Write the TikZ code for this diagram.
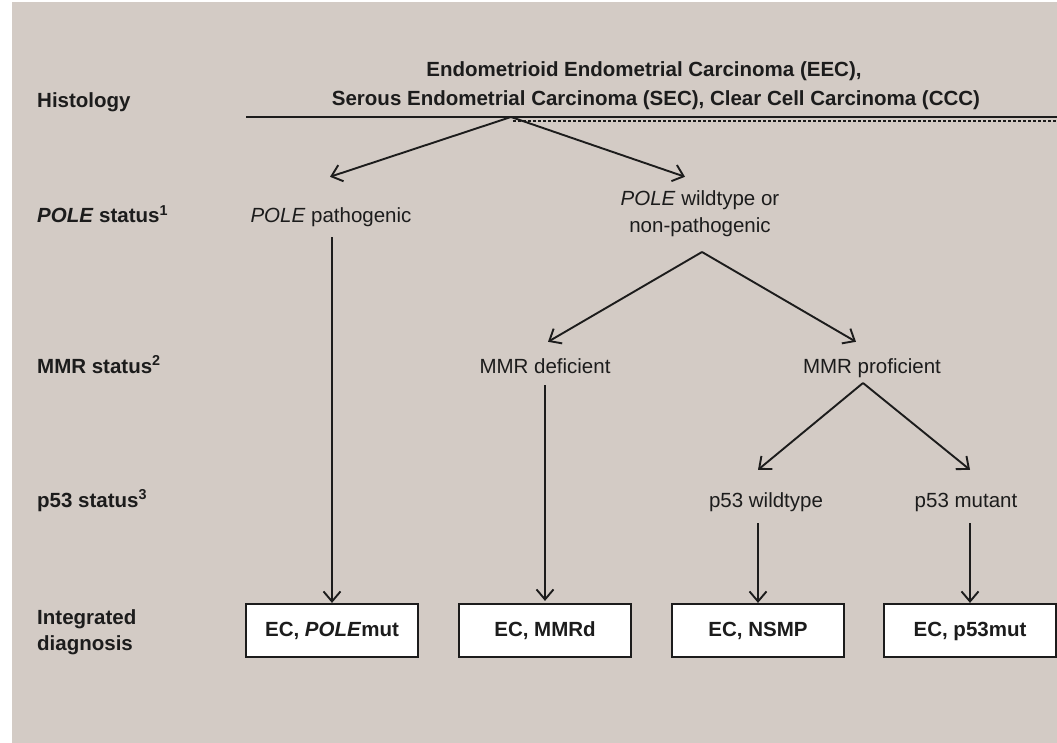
\documentclass[tikz,border=0pt]{standalone}
\usepackage{fontspec}
\setmainfont{Liberation Sans}
\usetikzlibrary{arrows.meta}
\definecolor{bgc}{RGB}{211,203,197}
\definecolor{ink}{RGB}{28,28,28}
\tikzset{
  lbl/.style={anchor=base, inner sep=0pt, text height=15pt, text depth=4.5pt, text=ink, font=\fontsize{20.5}{24}\selectfont},
  side/.style={lbl, anchor=base west, font=\fontsize{20.5}{24}\selectfont\bfseries},
  hdr/.style={lbl, font=\fontsize{20.5}{24}\selectfont\bfseries},
  diag/.style={draw=ink, line width=2.2pt, fill=white, minimum width=172pt, minimum height=53pt, inner sep=0pt,
    text height=15pt, text depth=3pt, text=ink, font=\fontsize{20.5}{24}\selectfont\bfseries},
  arr/.style={draw=ink, line width=1.9pt, -{Straight Barb[length=10pt,width=17pt,line width=1.9pt]}},
}
\begin{document}
\begin{tikzpicture}[x=1pt,y=-1pt]
\useasboundingbox (0,0) rectangle (1057,743);
\fill[white] (0,0) rectangle (1057,743);
\fill[bgc] (12,2) rectangle (1057,743);

% left column labels
\node[side] (lhist) at (37,108) {Histology};
\node[side] (lpole) at (37,223) {\textit{POLE} status\textsuperscript{1}};
\node[side] (lmmr) at (37,373) {MMR status\textsuperscript{2}};
\node[side] (lp53) at (37,507) {p53 status\textsuperscript{3}};
\node[side] (lint1) at (37,624) {Integrated};
\node[side] (lint2) at (37,650) {diagnosis};

% header
\node[hdr] (h1) at (644,77) {Endometrioid Endometrial Carcinoma (EEC),};
\node[hdr] (h2) at (656,106) {Serous Endometrial Carcinoma (SEC), Clear Cell Carcinoma (CCC)};
\coordinate (hl) at (246,117);
\coordinate (hr) at (1057,117);
\coordinate (ap1) at (511,117);
\coordinate (dl) at (513,121);
\coordinate (dr) at (1057,121);
\draw[draw=ink, line width=2.6pt] (hl) -- (hr);
\draw[draw=ink, line width=1.6pt, dash pattern=on 3pt off 2pt] (dl) -- (dr);

% level labels
\node[lbl] (pp) at (331,223) {\textit{POLE} pathogenic};
\node[lbl] (pw1) at (700,206) {\textit{POLE} wildtype or};
\node[lbl] (pw2) at (700,233) {non-pathogenic};
\node[lbl] (md) at (545,373) {MMR deficient};
\node[lbl] (mp) at (872,373) {MMR proficient};
\node[lbl] (wt) at (766,507) {p53 wildtype};
\node[lbl] (mu) at (966,507) {p53 mutant};

\coordinate (ap2) at (702,252);
\coordinate (ap3) at (863,383);

% boxes
\node[diag] (b1) at (332,630.5) {EC, \textit{POLE}mut};
\node[diag] (b2) at (545,630.5) {EC, MMRd};
\node[diag] (b3) at (758,630.5) {EC, NSMP};
\node[diag] (b4) at (970,630.5) {EC, p53mut};

% connectors
\draw[arr] (ap1) -- ([xshift=-1pt,yshift=31pt]pp.north);
\draw[arr] (ap1) -- ([xshift=-15pt,yshift=14pt]pw1.north);
\draw[arr] ([xshift=1pt,yshift=-9.5pt]pp.south) -- (b1.north);
\draw[arr] (ap2) -- ([xshift=3pt,yshift=16pt]md.north);
\draw[arr] (ap2) -- ([xshift=-16pt,yshift=16pt]mp.north);
\draw[arr] ([yshift=-7.5pt]md.south) -- ([yshift=2pt]b2.north);
\draw[arr] (ap3) -- ([xshift=-8pt,yshift=22pt]wt.north);
\draw[arr] (ap3) -- ([xshift=4pt,yshift=22pt]mu.north);
\draw[arr] ([xshift=-8pt,yshift=-11.5pt]wt.south) -- (b3.north);
\draw[arr] ([xshift=4pt,yshift=-11.5pt]mu.south) -- (b4.north);
\end{tikzpicture}
\end{document}
